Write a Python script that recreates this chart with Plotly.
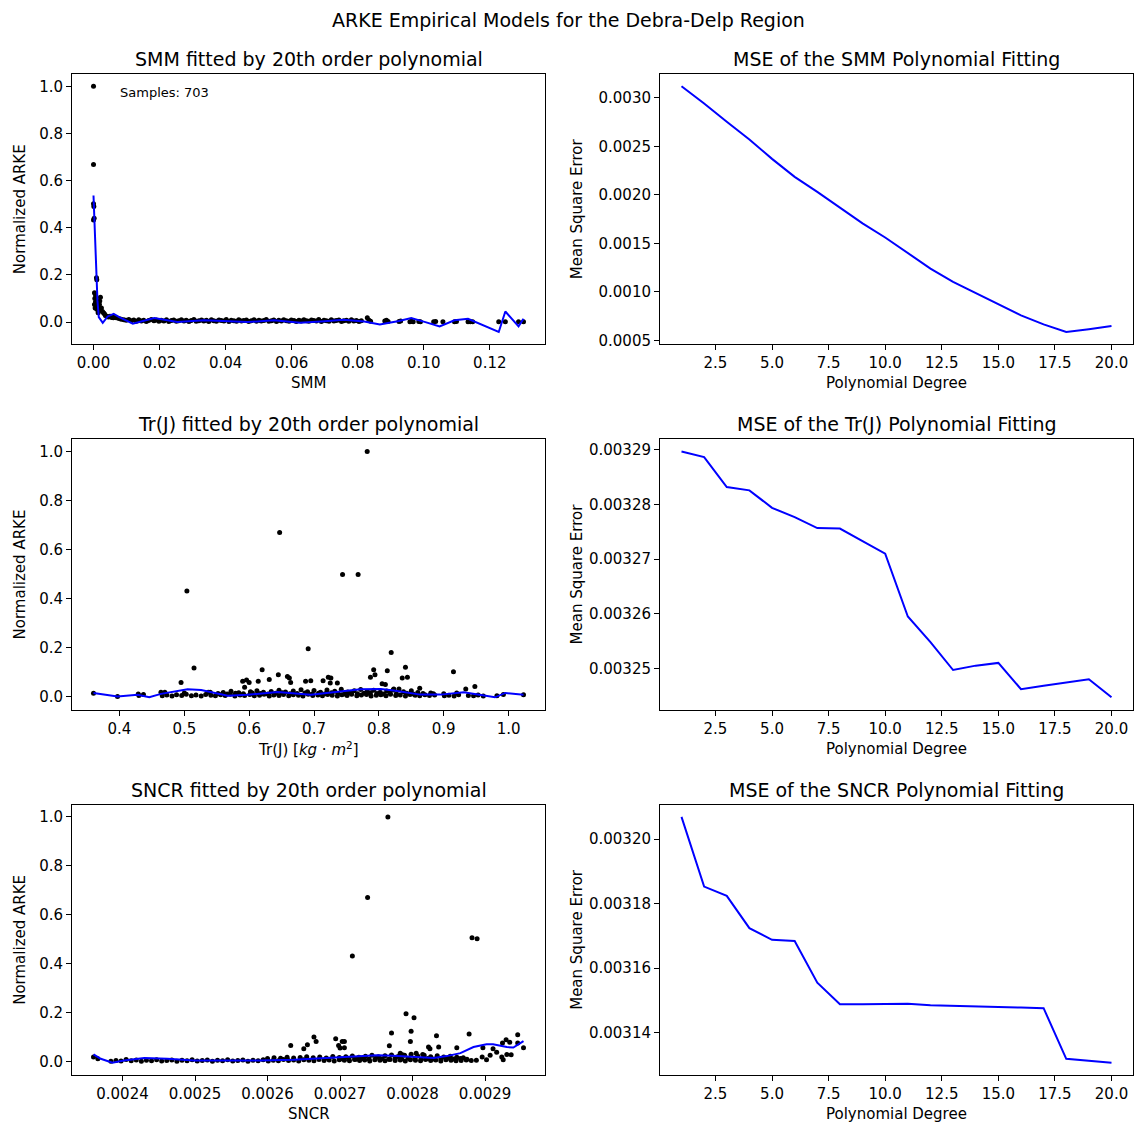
import plotly.graph_objects as go

W, H = 1137, 1126
FONT = "DejaVu Sans"

# ---------------- SMM panel data ----------------
smm_x = [0.0, 0.0, 0.0, 0.0, 0.0001, 0.0002, 0.0009, 0.0010,
         0.0003, 0.0005, 0.0007, 0.0004, 0.0009, 0.0006, 0.0011, 0.0003, 0.0008, 0.0013,
         0.0005, 0.0010, 0.0016, 0.0019, 0.0021, 0.0018, 0.0024, 0.0027, 0.0030, 0.0033,
         0.0014, 0.0036, 0.0040, 0.0045, 0.0050, 0.0055, 0.0060,
         0.0062, 0.0069, 0.0077, 0.0084, 0.0092, 0.0099, 0.0107, 0.0114, 0.0122, 0.0130,
         0.0137, 0.0145, 0.0152, 0.0160, 0.0167, 0.0175, 0.0183, 0.0190, 0.0198, 0.0205,
         0.0213, 0.0221, 0.0228, 0.0236, 0.0243, 0.0251, 0.0258, 0.0266, 0.0274, 0.0281,
         0.0289, 0.0296, 0.0304, 0.0311, 0.0319, 0.0327, 0.0334, 0.0342, 0.0349, 0.0357,
         0.0364, 0.0372, 0.0380, 0.0387, 0.0395, 0.0402, 0.0410, 0.0417, 0.0425, 0.0433,
         0.0440, 0.0448, 0.0455, 0.0463, 0.0470, 0.0478, 0.0486, 0.0493, 0.0501, 0.0508,
         0.0516, 0.0523, 0.0531, 0.0539, 0.0546, 0.0554, 0.0561, 0.0569, 0.0576, 0.0584,
         0.0592, 0.0599, 0.0607, 0.0614, 0.0622, 0.0629, 0.0637, 0.0645, 0.0652, 0.0660,
         0.0667, 0.0675, 0.0682, 0.0690, 0.0698, 0.0705, 0.0713, 0.0720, 0.0728, 0.0735,
         0.0743, 0.0751, 0.0758, 0.0766, 0.0773, 0.0781, 0.0788, 0.0796, 0.0804, 0.0811,
         0.0829, 0.0834, 0.0839, 0.0882, 0.0887, 0.0892, 0.0925, 0.0930, 0.0958, 0.0963,
         0.0968, 0.0985, 0.0990, 0.1030, 0.1036, 0.1058, 0.1093, 0.1099, 0.1134, 0.1141,
         0.1148, 0.1227, 0.1247, 0.1287, 0.1302]
smm_y = [1.0, 0.668, 0.502, 0.433, 0.49, 0.44, 0.188, 0.180,
         0.125, 0.12, 0.11, 0.10, 0.095, 0.085, 0.08, 0.075, 0.07, 0.065,
         0.06, 0.055, 0.05, 0.09, 0.105, 0.075, 0.06, 0.045, 0.04, 0.035,
         0.04, 0.028, 0.025, 0.022, 0.025, 0.02, 0.018,
         0.022, 0.018, 0.015, 0.012, 0.010, 0.008, 0.011, 0.006, 0.009, 0.004,
         0.010, 0.005, 0.008, 0.003, 0.007, 0.011, 0.006, 0.009, 0.004, 0.008,
         0.005, 0.010, 0.003, 0.007, 0.009, 0.004, 0.006, 0.010, 0.005, 0.008,
         0.003, 0.007, 0.011, 0.004, 0.006, 0.009, 0.005, 0.008, 0.003, 0.010,
         0.006, 0.004, 0.009, 0.007, 0.005, 0.011, 0.003, 0.008, 0.006, 0.004,
         0.010, 0.005, 0.007, 0.009, 0.003, 0.006, 0.010, 0.004, 0.008, 0.005,
         0.007, 0.011, 0.004, 0.006, 0.009, 0.003, 0.008, 0.005, 0.010, 0.006,
         0.004, 0.009, 0.007, 0.003, 0.008, 0.005, 0.010, 0.006, 0.004, 0.009,
         0.007, 0.005, 0.011, 0.003, 0.008, 0.006, 0.004, 0.010, 0.005, 0.007,
         0.009, 0.003, 0.006, 0.008, 0.004, 0.010, 0.005, 0.007, 0.003, 0.006,
         0.018, 0.008, 0.004, 0.005, 0.008, 0.003, 0.003, 0.005, 0.002, 0.004,
         0.002, 0.003, 0.002, 0.002, 0.003, 0.001, 0.002, 0.003, 0.002, 0.001,
         0.002, 0.001, 0.001, 0.001, 0.002]
smm_fit_x = [0.0, 0.0003, 0.0008, 0.0012, 0.0016, 0.0028, 0.0043, 0.0061, 0.0078,
             0.0119, 0.0184, 0.0254, 0.0335, 0.0405, 0.0466, 0.0546, 0.0626, 0.0700,
             0.0757, 0.0820, 0.0867, 0.0925, 0.0962, 0.1005, 0.1048, 0.1093, 0.1134,
             0.1227, 0.1247, 0.1287, 0.1302]
smm_fit_y = [0.537, 0.43, 0.22, 0.09, 0.021, -0.003, 0.024, 0.035, 0.021,
             -0.007, 0.017, 0.0, 0.008, 0.004, 0.0, 0.008, -0.003, 0.004,
             0.010, 0.003, -0.010, 0.005, 0.017, 0.0, -0.018, 0.008, 0.014,
             -0.042, 0.045, -0.018, 0.014]

# ---------------- Tr(J) panel data ----------------
trj_x = [0.782, 0.647, 0.744, 0.768, 0.504, 0.691, 0.819, 0.515, 0.620, 0.792,
         0.813, 0.841, 0.915, 0.645, 0.659, 0.662, 0.631, 0.614, 0.590, 0.596,
         0.600, 0.593, 0.495, 0.664, 0.687, 0.695, 0.714, 0.722, 0.726, 0.725,
         0.736, 0.787, 0.794, 0.805, 0.810, 0.836, 0.844, 0.823, 0.831, 0.863,
         0.934, 0.948, 0.464, 0.537, 0.360, 0.397, 0.429, 1.023, 0.992, 0.982,
         0.430, 0.437, 0.466, 0.473, 0.481, 0.488, 0.496, 0.503, 0.511, 0.518,
         0.526, 0.533, 0.541, 0.548, 0.556, 0.563, 0.571, 0.578, 0.586, 0.593,
         0.601, 0.608, 0.616, 0.623, 0.631, 0.638, 0.646, 0.653, 0.661, 0.668,
         0.676, 0.683, 0.691, 0.698, 0.706, 0.713, 0.721, 0.728, 0.736, 0.743,
         0.751, 0.758, 0.766, 0.773, 0.781, 0.788, 0.796, 0.803, 0.811, 0.818,
         0.826, 0.833, 0.841, 0.848, 0.856, 0.863, 0.871, 0.878, 0.886, 0.901,
         0.908, 0.916, 0.923, 0.938, 0.946, 0.953, 0.961,
         0.470, 0.500, 0.540, 0.560, 0.572, 0.584, 0.602, 0.612, 0.622, 0.634,
         0.646, 0.656, 0.668, 0.680, 0.690, 0.700, 0.710, 0.720, 0.732, 0.742,
         0.752, 0.762, 0.772, 0.782, 0.792, 0.802, 0.812, 0.822, 0.838, 0.850,
         0.860, 0.880, 0.900, 0.920,
         0.552, 0.566, 0.579, 0.591, 0.605, 0.617, 0.629, 0.641, 0.651, 0.663,
         0.674, 0.686, 0.697, 0.707, 0.717, 0.727, 0.737, 0.747, 0.757, 0.767,
         0.777, 0.787, 0.797, 0.807, 0.817, 0.827, 0.843, 0.853, 0.868, 0.884]
trj_y = [1.0, 0.670, 0.498, 0.498, 0.431, 0.195, 0.180, 0.117, 0.109, 0.109,
         0.105, 0.120, 0.101, 0.089, 0.082, 0.076, 0.070, 0.063, 0.063, 0.068,
         0.057, 0.038, 0.057, 0.057, 0.063, 0.065, 0.065, 0.079, 0.076, 0.055,
         0.055, 0.079, 0.089, 0.052, 0.049, 0.076, 0.079, 0.031, 0.031, 0.034,
         0.031, 0.041, 0.018, 0.018, 0.014, 0.0, 0.011, 0.007, 0.008, 0.003,
         0.004, 0.008, 0.003, 0.006, 0.002, 0.007, 0.004, 0.009, 0.003, 0.006,
         0.002, 0.008, 0.005, 0.003, 0.007, 0.004, 0.009, 0.002, 0.006, 0.004,
         0.008, 0.003, 0.005, 0.009, 0.002, 0.006, 0.004, 0.008, 0.003, 0.007,
         0.005, 0.002, 0.009, 0.004, 0.006, 0.003, 0.008, 0.005, 0.002, 0.007,
         0.004, 0.009, 0.003, 0.006, 0.008, 0.002, 0.005, 0.007, 0.003, 0.009,
         0.004, 0.006, 0.002, 0.008, 0.005, 0.003, 0.007, 0.004, 0.006, 0.003,
         0.005, 0.002, 0.007, 0.004, 0.003, 0.006, 0.002,
         0.018, 0.015, 0.018, 0.017, 0.022, 0.016, 0.020, 0.024, 0.018, 0.021,
         0.026, 0.019, 0.023, 0.028, 0.020, 0.025, 0.018, 0.027, 0.022, 0.030,
         0.019, 0.024, 0.029, 0.021, 0.026, 0.018, 0.023, 0.027, 0.020, 0.024,
         0.017, 0.015, 0.012, 0.015,
         0.013, 0.011, 0.014, 0.012, 0.015, 0.013, 0.011, 0.014, 0.016, 0.012,
         0.013, 0.015, 0.011, 0.014, 0.012, 0.016, 0.013, 0.011, 0.015, 0.012,
         0.014, 0.016, 0.013, 0.011, 0.015, 0.012, 0.014, 0.011, 0.013, 0.012]
trj_fit_x = [0.360, 0.397, 0.428, 0.446, 0.464, 0.505, 0.526, 0.567, 0.597, 0.644,
             0.695, 0.721, 0.772, 0.803, 0.823, 0.864, 0.895, 0.931, 0.956, 0.979,
             0.995, 1.023]
trj_fit_y = [0.015, 0.0, 0.007, -0.003, 0.011, 0.030, 0.027, 0.003, 0.007, 0.019,
             0.007, 0.014, 0.030, 0.031, 0.025, 0.008, 0.008, 0.018, 0.008, -0.003,
             0.015, 0.007]

# ---------------- SNCR panel data ----------------
sncr_x = [0.002766, 0.002738, 0.002717, 0.002882, 0.002889, 0.002791, 0.002802, 0.002771,
          0.002798, 0.002878, 0.002833, 0.002945, 0.002664, 0.002694, 0.002703, 0.002706,
          0.002667, 0.002655, 0.002650, 0.002632, 0.002698, 0.002700, 0.002706, 0.002768,
          0.002797, 0.002822, 0.002824, 0.002836, 0.002861, 0.002897, 0.002924, 0.002929,
          0.002934, 0.002945, 0.002953, 0.002911, 0.002916, 0.002907, 0.002896, 0.002902,
          0.002923, 0.002925, 0.002930, 0.002936, 0.002783, 0.002786, 0.002805, 0.002814,
          0.002360, 0.002366,
          0.002384, 0.002391, 0.002398, 0.002405, 0.002412, 0.002419, 0.002426, 0.002433,
          0.002440, 0.002447, 0.002454, 0.002461, 0.002468, 0.002475, 0.002482, 0.002489,
          0.002496, 0.002503, 0.002510, 0.002517, 0.002524, 0.002531, 0.002538, 0.002545,
          0.002552, 0.002559, 0.002566, 0.002573, 0.002580, 0.002587, 0.002594, 0.002601,
          0.002608, 0.002615, 0.002622, 0.002629, 0.002636, 0.002643, 0.002650, 0.002657,
          0.002664, 0.002671, 0.002678, 0.002685, 0.002692, 0.002699, 0.002706, 0.002713,
          0.002720, 0.002727, 0.002734, 0.002741, 0.002748, 0.002755, 0.002762, 0.002769,
          0.002776, 0.002783, 0.002790, 0.002797, 0.002804, 0.002811, 0.002818, 0.002825,
          0.002832, 0.002839, 0.002846, 0.002853, 0.002860, 0.002867, 0.002874, 0.002881,
          0.002888,
          0.002600, 0.002609, 0.002618, 0.002627, 0.002636, 0.002645, 0.002654, 0.002663,
          0.002672, 0.002681, 0.002690, 0.002699, 0.002708, 0.002717, 0.002726, 0.002735,
          0.002744, 0.002753, 0.002762, 0.002771, 0.002780, 0.002789, 0.002798, 0.002807,
          0.002816, 0.002825, 0.002834, 0.002843, 0.002852, 0.002861, 0.002870,
          0.002704, 0.002712, 0.002722, 0.002731, 0.002740, 0.002749, 0.002758, 0.002767,
          0.002776, 0.002785, 0.002794, 0.002803, 0.002812, 0.002821, 0.002830, 0.002839,
          0.002848, 0.002857, 0.002866, 0.002875]
sncr_y = [1.0, 0.670, 0.431, 0.506, 0.502, 0.195, 0.179, 0.116,
          0.124, 0.112, 0.105, 0.109, 0.100, 0.093, 0.082, 0.082,
          0.082, 0.068, 0.052, 0.065, 0.065, 0.055, 0.056, 0.064,
          0.082, 0.059, 0.052, 0.059, 0.056, 0.056, 0.076, 0.089,
          0.079, 0.076, 0.056, 0.052, 0.038, 0.025, 0.018, 0.007,
          0.018, 0.007, 0.029, 0.028, 0.034, 0.028, 0.034, 0.029,
          0.018, 0.011,
          0.001, 0.004, 0.002, 0.008, 0.003, 0.006, 0.001, 0.005,
          0.003, 0.007, 0.002, 0.004, 0.006, 0.001, 0.005, 0.003,
          0.007, 0.002, 0.004, 0.006, 0.001, 0.005, 0.003, 0.007,
          0.002, 0.004, 0.006, 0.001, 0.005, 0.003, 0.007, 0.002,
          0.005, 0.003, 0.008, 0.004, 0.006, 0.002, 0.007, 0.005,
          0.003, 0.008, 0.004, 0.006, 0.002, 0.007, 0.005, 0.003,
          0.008, 0.004, 0.006, 0.002, 0.007, 0.005, 0.003, 0.008,
          0.004, 0.006, 0.002, 0.007, 0.005, 0.003, 0.008, 0.004,
          0.006, 0.002, 0.007, 0.005, 0.003, 0.004, 0.006, 0.004,
          0.005,
          0.012, 0.015, 0.013, 0.017, 0.014, 0.016, 0.019, 0.015,
          0.018, 0.014, 0.020, 0.016, 0.019, 0.022, 0.017, 0.021,
          0.025, 0.019, 0.023, 0.027, 0.020, 0.026, 0.030, 0.022,
          0.025, 0.019, 0.023, 0.018, 0.021, 0.017, 0.015,
          0.010, 0.011, 0.009, 0.012, 0.010, 0.013, 0.011, 0.009,
          0.012, 0.010, 0.013, 0.011, 0.009, 0.012, 0.010, 0.011,
          0.013, 0.010, 0.012, 0.009]
sncr_fit_x = [0.002360, 0.002370, 0.002386, 0.002402, 0.002430, 0.002462, 0.002499, 0.002545,
              0.002590, 0.002636, 0.002682, 0.002728, 0.002751, 0.002774, 0.002801, 0.002829,
              0.002847, 0.002866, 0.002884, 0.002902, 0.002911, 0.002930, 0.002939, 0.002953]
sncr_fit_y = [0.029, 0.011, -0.005, 0.004, 0.014, 0.011, 0.004, 0.003,
              0.004, 0.007, 0.014, 0.023, 0.026, 0.023, 0.018, 0.014,
              0.022, 0.034, 0.059, 0.070, 0.070, 0.059, 0.057, 0.083]

# ---------------- MSE vs polynomial degree ----------------
degrees = list(range(1, 21))
mse_smm = [0.003118, 0.002940, 0.002752, 0.002570, 0.002370, 0.002185, 0.002030, 0.001865,
           0.001705, 0.001560, 0.001400, 0.001240, 0.001102, 0.000990, 0.000870, 0.000758,
           0.000665, 0.000586, 0.000615, 0.000648]
mse_trj = [0.0032897, 0.0032887, 0.0032832, 0.0032826, 0.0032794, 0.0032777, 0.0032757,
           0.0032756, 0.0032733, 0.0032710, 0.0032595, 0.0032548, 0.0032497, 0.0032505,
           0.0032510, 0.0032462, 0.0032468, 0.0032474, 0.0032480, 0.0032447]
mse_sncr = [0.0032069, 0.0031853, 0.0031824, 0.0031724, 0.0031688, 0.0031684, 0.0031555,
            0.0031488, 0.0031488, 0.0031488, 0.0031490, 0.0031485, 0.0031484, 0.0031482,
            0.0031480, 0.0031478, 0.0031476, 0.0031319, 0.0031312, 0.0031307]

sample_count = 703

titles_left = ["SMM fitted by 20th order polynomial",
               "Tr(J) fitted by 20th order polynomial",
               "SNCR fitted by 20th order polynomial"]
titles_right = ["MSE of the SMM Polynomial Fitting",
                "MSE of the Tr(J) Polynomial Fitting",
                "MSE of the SNCR Polynomial Fitting"]
xlabels_left = ["SMM", "Tr(J) [<i>kg</i> · <i>m</i><sup>2</sup>]", "SNCR"]
suptitle = "ARKE Empirical Models for the Debra-Delp Region"


def pad(vals):
    lo, hi = min(vals), max(vals)
    d = (hi - lo) * 0.05
    return [lo - d, hi + d]


# ---------------- layout geometry (pixels) ----------------
colL = (72, 545)
colR = (660, 1133)
rows = [(74, 344.3), (439.3, 709.6), (804.6, 1075)]


def xdom(c):
    return [c[0] / W, c[1] / W]


def ydom(r):
    return [1 - r[1] / H, 1 - r[0] / H]


fig = go.Figure()

scat = [(smm_x, smm_y, smm_fit_x, smm_fit_y),
        (trj_x, trj_y, trj_fit_x, trj_fit_y),
        (sncr_x, sncr_y, sncr_fit_x, sncr_fit_y)]
mses = [mse_smm, mse_trj, mse_sncr]

tickfont = dict(family=FONT, size=15, color="black")
common = dict(showline=True, linecolor="black", linewidth=1, mirror=True,
              ticks="outside", ticklen=5, tickwidth=1, tickcolor="black",
              showgrid=False, zeroline=False, tickfont=tickfont, automargin=False)

xfmt = [dict(dtick=0.02, tick0=0, tickformat=".2f"),
        dict(dtick=0.1, tick0=0, tickformat=".1f"),
        dict(dtick=0.0001, tick0=0, tickformat=".4f")]
yfmtR = [dict(dtick=0.0005, tick0=0, tickformat=".4f"),
         dict(dtick=0.00001, tick0=0, tickformat=".5f"),
         dict(dtick=0.00002, tick0=0, tickformat=".5f")]

annotations = []
layout = {}
for i in range(3):
    nL = 2 * i + 1
    nR = 2 * i + 2
    sx, sy, fx, fy = scat[i]
    fig.add_trace(go.Scatter(x=sx, y=sy, mode="markers",
                             marker=dict(color="black", size=5),
                             xaxis=f"x{nL}", yaxis=f"y{nL}", showlegend=False))
    fig.add_trace(go.Scatter(x=fx, y=fy, mode="lines",
                             line=dict(color="#0000ff", width=2),
                             xaxis=f"x{nL}", yaxis=f"y{nL}", showlegend=False))
    fig.add_trace(go.Scatter(x=degrees, y=mses[i], mode="lines",
                             line=dict(color="#0000ff", width=2),
                             xaxis=f"x{nR}", yaxis=f"y{nR}", showlegend=False))

    layout[f"xaxis{nL}"] = dict(domain=xdom(colL), anchor=f"y{nL}",
                                range=pad(sx + fx), **xfmt[i], **common)
    layout[f"yaxis{nL}"] = dict(domain=ydom(rows[i]), anchor=f"x{nL}",
                                range=pad(sy + fy), dtick=0.2, tick0=0,
                                tickformat=".1f", **common)
    layout[f"xaxis{nR}"] = dict(domain=xdom(colR), anchor=f"y{nR}",
                                range=pad(degrees), dtick=2.5, tick0=0,
                                tickformat=".1f", **common)
    layout[f"yaxis{nR}"] = dict(domain=ydom(rows[i]), anchor=f"x{nR}",
                                range=pad(mses[i]), **yfmtR[i], **common)

    top = rows[i][0]
    bot = rows[i][1]
    for col, ttl in ((colL, titles_left[i]), (colR, titles_right[i])):
        annotations.append(dict(text=ttl, xref="paper", yref="paper",
                                x=(col[0] + col[1]) / 2 / W, y=1 - (top - 15) / H,
                                xanchor="center", yanchor="middle", showarrow=False,
                                font=dict(family=FONT, size=19, color="black")))
    for col, lab in ((colL, xlabels_left[i]), (colR, "Polynomial Degree")):
        annotations.append(dict(text=lab, xref="paper", yref="paper",
                                x=(col[0] + col[1]) / 2 / W, y=1 - (bot + 39) / H,
                                xanchor="center", yanchor="middle", showarrow=False,
                                font=dict(family=FONT, size=15, color="black")))
    mid = (top + bot) / 2
    annotations.append(dict(text="Normalized ARKE", xref="paper", yref="paper",
                            x=(colL[0] - 52) / W, y=1 - mid / H, textangle=-90,
                            xanchor="center", yanchor="middle", showarrow=False,
                            font=dict(family=FONT, size=15, color="black")))
    annotations.append(dict(text="Mean Square Error", xref="paper", yref="paper",
                            x=(colR[0] - 83) / W, y=1 - mid / H, textangle=-90,
                            xanchor="center", yanchor="middle", showarrow=False,
                            font=dict(family=FONT, size=15, color="black")))

annotations.append(dict(text=f"Samples: {sample_count}", xref="x domain", yref="y domain",
                        x=0.097, y=0.93, xanchor="left", yanchor="middle", showarrow=False,
                        font=dict(family=FONT, size=13, color="black")))
annotations.append(dict(text=suptitle, xref="paper", yref="paper",
                        x=0.5, y=1 - 20 / H, xanchor="center", yanchor="middle",
                        showarrow=False, font=dict(family=FONT, size=19, color="black")))

fig.update_layout(width=W, height=H, margin=dict(l=0, r=0, t=0, b=0),
                  paper_bgcolor="white", plot_bgcolor="white",
                  font=dict(family=FONT, color="black"),
                  annotations=annotations, showlegend=False, **layout)

fig.write_html("out.html", config={"displayModeBar": False},
               post_script="document.body.style.margin='0px';document.body.style.padding='0px';")
